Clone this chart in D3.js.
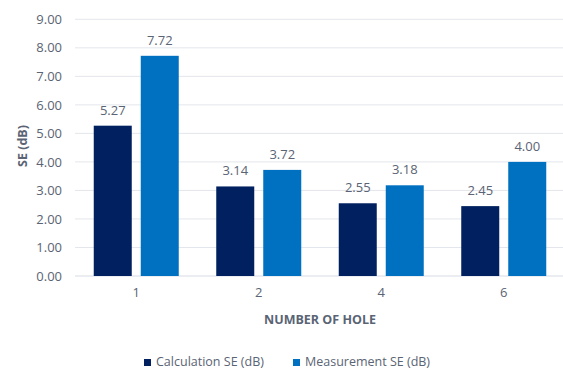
<!DOCTYPE html>
<html>
<head>
<meta charset="utf-8">
<script src="https://cdn.jsdelivr.net/npm/d3@7"></script>
<style>
  html, body { margin: 0; padding: 0; background: #fff; }
  svg { display: block; font-family: "Open Sans", "Noto Sans", sans-serif; }
</style>
</head>
<body>
<svg id="chart" width="563" height="372"></svg>
<script>
// Shielding effectiveness by number of holes
const holes = ["1", "2", "4", "6"];
const seriesNames = ["Calculation SE (dB)", "Measurement SE (dB)"];
const calculationSE = [5.27, 3.14, 2.55, 2.45];
const measurementSE = [7.72, 3.72, 3.18, 4.00];
const yTicks = [0, 1, 2, 3, 4, 5, 6, 7, 8, 9];
const colors = ["#002060", "#0070C0"];

const textColor = "#5a6474";
const svg = d3.select("#chart");
const margin = { left: 75, right: -2, top: 19.3, bottom: 96 };
const W = 563, H = 372;
const x0 = margin.left, x1 = W - margin.right;
const yTop = margin.top, yBot = H - margin.bottom;

const x = d3.scaleBand().domain(holes).range([x0, x1]).paddingInner(0).paddingOuter(0);
const bw = 38, gap = 9;
const y = d3.scaleLinear().domain([0, 9]).range([yBot, yTop]);

// gridlines
svg.append("g")
  .selectAll("line")
  .data(yTicks)
  .join("line")
  .attr("x1", x0).attr("x2", W)
  .attr("y1", d => y(d)).attr("y2", d => y(d))
  .attr("stroke", d => d === 0 ? "#d6dbe3" : "#e3e6ec")
  .attr("stroke-width", 1);

// y axis labels
const yAxis = svg.append("g")
  .attr("transform", `translate(${x0},0)`)
  .call(d3.axisLeft(y).tickValues(yTicks).tickFormat(d3.format(".2f")).tickSize(0).tickPadding(13));
yAxis.select(".domain").remove();
yAxis.selectAll("text").attr("fill", textColor).style("font-size", "13px").style("font-family", "'Open Sans', sans-serif");

// x axis labels
const xAxis = svg.append("g")
  .attr("transform", `translate(0,${yBot})`)
  .call(d3.axisBottom(x).tickSize(0).tickPadding(12));
xAxis.select(".domain").remove();
xAxis.selectAll("text").attr("fill", textColor).style("font-size", "13px").style("font-family", "'Open Sans', sans-serif");

const data = holes.map((h, i) => ({ hole: h, values: [calculationSE[i], measurementSE[i]] }));
const groupOffset = (x.bandwidth() - (bw * 2 + gap)) / 2;

const groups = svg.append("g")
  .selectAll("g")
  .data(data)
  .join("g")
  .attr("transform", d => `translate(${x(d.hole) + groupOffset},0)`);

groups.selectAll("rect")
  .data(d => d.values.map((v, j) => ({ v, name: seriesNames[j], j })))
  .join("rect")
  .attr("x", d => d.j * (bw + gap))
  .attr("width", bw)
  .attr("y", d => y(d.v))
  .attr("height", d => y(0) - y(d.v))
  .attr("fill", d => colors[d.j]);

groups.selectAll("text.val")
  .data(d => d.values.map((v, j) => ({ v, j })))
  .join("text")
  .attr("class", "val")
  .attr("x", d => d.j * (bw + gap) + bw / 2)
  .attr("y", d => y(d.v) - 11)
  .attr("text-anchor", "middle")
  .attr("fill", textColor)
  .style("font-size", "13px")
  .text(d => d3.format(".2f")(d.v));

// axis titles
svg.append("text")
  .attr("x", 320)
  .attr("y", 324)
  .attr("text-anchor", "middle")
  .attr("fill", textColor)
  .style("font-size", "12.5px")
  .style("font-weight", "bold")
  .text("NUMBER OF HOLE");

svg.append("text")
  .attr("transform", `translate(27,146) rotate(-90)`)
  .attr("text-anchor", "middle")
  .attr("fill", textColor)
  .style("font-size", "12.5px")
  .style("font-weight", "bold")
  .text("SE (dB)");

// legend
const legendX = [144, 293];
const legend = svg.append("g")
  .selectAll("g")
  .data(seriesNames)
  .join("g")
  .attr("transform", (d, i) => `translate(${legendX[i]},359)`);
legend.append("rect").attr("width", 7).attr("height", 7).attr("fill", (d, i) => colors[i]);
legend.append("text")
  .attr("x", 12).attr("y", 7)
  .attr("fill", textColor)
  .style("font-size", "12.5px")
  .text(d => d);
</script>
</body>
</html>
